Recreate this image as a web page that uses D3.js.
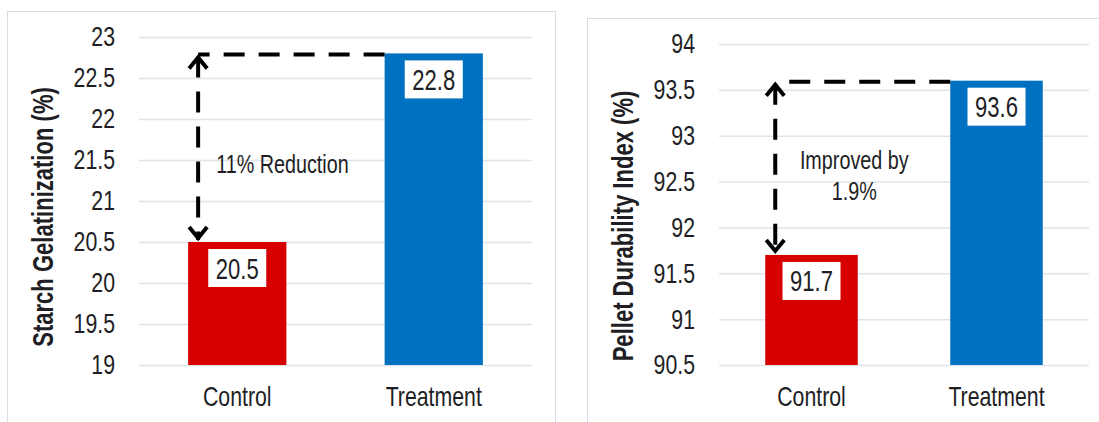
<!DOCTYPE html>
<html>
<head>
<meta charset="utf-8">
<script src="https://cdn.jsdelivr.net/npm/d3@7"></script>
<style>
  body { margin: 0; background: #fff; }
  svg { display: block; font-family: "Liberation Sans Narrow", "Arial Narrow", "Liberation Sans", Arial, sans-serif; }
</style>
</head>
<body>
<svg id="chart" width="1099" height="422"></svg>
<script>
// data
const categories = ["Control", "Treatment"];
const starchValues = [20.5, 22.8];
const starchTicks = [19, 19.5, 20, 20.5, 21, 21.5, 22, 22.5, 23];
const durabilityValues = [91.7, 93.6];
const durabilityTicks = [90.5, 91, 91.5, 92, 92.5, 93, 93.5, 94];
const barColors = ["#d60000", "#0070c0"];

const svg = d3.select("#chart");
const textColor = "#1e1e24";

// no narrow face installed, so squeeze the regular one
function narrow(sel, k = 0.76) {
  sel.each(function () {
    const w = this.getComputedTextLength();
    d3.select(this).attr("textLength", w * k).attr("lengthAdjust", "spacingAndGlyphs");
  });
}

function drawPanel(cfg) {
  const { frame, left, right, top, bottom, values, ticks, title, titleX, titleY, note } = cfg;

  // panel frame
  svg.append("rect")
    .attr("x", frame[0] + 0.5).attr("y", frame[1] + 0.5)
    .attr("width", frame[2]).attr("height", frame[3])
    .attr("fill", "none").attr("stroke", "#d9dde2");

  const x = d3.scaleBand().domain(categories).range([left, right])
    .paddingInner(0.5).paddingOuter(0.25);
  const y = d3.scaleLinear().domain([ticks[0], ticks[ticks.length - 1]]).range([bottom, top]);

  // y axis with gridlines
  const yAxis = svg.append("g")
    .attr("transform", "translate(" + left + ",0)")
    .call(d3.axisLeft(y).tickValues(ticks).tickFormat(d3.format("~f"))
      .tickSize(-(right - left)).tickPadding(24));
  yAxis.select(".domain").remove();
  yAxis.selectAll(".tick line").attr("stroke", "#dfe4ea").attr("stroke-width", 1.5);
  yAxis.selectAll(".tick text").attr("fill", textColor).style("font-size", "28px").call(narrow);

  // category axis
  const xAxis = svg.append("g")
    .attr("transform", "translate(0," + bottom + ")")
    .call(d3.axisBottom(x).tickSize(0).tickPadding(21));
  xAxis.select(".domain").remove();
  xAxis.selectAll(".tick text").attr("fill", textColor).style("font-size", "28px").call(narrow);

  // y title
  svg.append("text")
    .attr("transform", "translate(" + titleX + "," + titleY + ") rotate(-90)")
    .attr("text-anchor", "middle")
    .attr("dy", "0.35em")
    .attr("fill", textColor)
    .style("font-size", "29px").style("font-weight", "bold")
    .text(title)
    .call(narrow);

  // bars
  svg.append("g").selectAll("rect")
    .data(values)
    .enter()
    .append("rect")
    .attr("x", (d, i) => x(categories[i]))
    .attr("y", d => y(d))
    .attr("width", x.bandwidth())
    .attr("height", d => bottom - y(d))
    .attr("fill", (d, i) => barColors[i]);

  // value labels in white boxes
  const lab = svg.append("g").selectAll("g")
    .data(values)
    .enter()
    .append("g")
    .attr("transform", (d, i) => "translate(" + (x(categories[i]) + x.bandwidth() / 2) + "," + (y(d) + 7) + ")");
  lab.append("rect")
    .attr("x", -29).attr("y", 0).attr("width", 58).attr("height", 38)
    .attr("fill", "#fff");
  lab.append("text")
    .attr("y", 29.5)
    .attr("text-anchor", "middle")
    .attr("fill", textColor)
    .style("font-size", "29px")
    .text(d => d)
    .call(narrow);

  // dashed difference annotation
  const ax = x(categories[0]) + 10;
  const yHi = y(values[1]);
  const yLo = y(values[0]);
  const ann = svg.append("g").attr("stroke", "#000").attr("stroke-width", 4).attr("fill", "none");
  ann.append("line")
    .attr("x1", x(categories[1])).attr("x2", ax)
    .attr("y1", yHi + 1).attr("y2", yHi + 1)
    .attr("stroke-dasharray", "21 14");
  ann.append("line")
    .attr("x1", ax).attr("x2", ax)
    .attr("y1", yHi + 3).attr("y2", yLo - 2)
    .attr("stroke-dasharray", "21 14");
  ann.append("path")
    .attr("d", "M" + (ax - 9) + "," + (yHi + 15) + "L" + ax + "," + (yHi + 4) + "L" + (ax + 9) + "," + (yHi + 15));
  ann.append("path")
    .attr("d", "M" + (ax - 9) + "," + (yLo - 15) + "L" + ax + "," + (yLo - 4) + "L" + (ax + 9) + "," + (yLo - 15));

  const nt = svg.append("text")
    .attr("fill", textColor)
    .attr("text-anchor", note.anchor)
    .style("font-size", "26px");
  note.lines.forEach((t, i) => {
    nt.append("tspan")
      .attr("x", ax + note.dx)
      .attr("y", yHi + note.dy + i * 31)
      .text(t);
  });
  nt.selectAll("tspan").call(narrow);
}

drawPanel({
  frame: [7, 11, 548, 430],
  left: 139, right: 532, top: 37, bottom: 365,
  values: starchValues, ticks: starchTicks,
  title: "Starch Gelatinization (%)", titleX: 43, titleY: 217,
  note: { lines: ["11% Reduction"], dx: 18, dy: 120, anchor: "start" }
});

drawPanel({
  frame: [587, 18, 530, 430],
  left: 719, right: 1089, top: 44, bottom: 365,
  values: durabilityValues, ticks: durabilityTicks,
  title: "Pellet Durability Index (%)", titleX: 623, titleY: 226,
  note: { lines: ["Improved by", "1.9%"], dx: 79, dy: 88, anchor: "middle" }
});
</script>
</body>
</html>
